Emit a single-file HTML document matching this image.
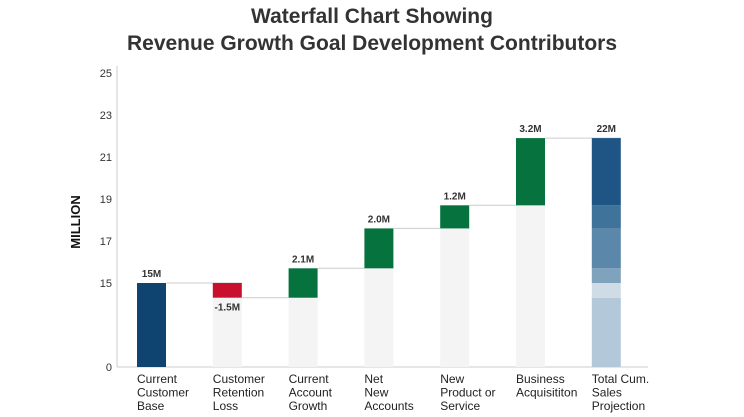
<!DOCTYPE html>
<html><head><meta charset="utf-8"><style>
body{margin:0;background:#fff;}
svg{display:block;font-family:"Liberation Sans",sans-serif;}
</style></head><body>
<svg id="c" width="744" height="417">
<text x="372" y="23" text-anchor="middle" font-size="21" font-weight="bold" fill="#333">Waterfall Chart Showing</text>
<text x="372" y="50" text-anchor="middle" font-size="21" font-weight="bold" fill="#333">Revenue Growth Goal Development Contributors</text>
<text transform="translate(80,222) rotate(-90)" text-anchor="middle" font-size="13" font-weight="bold" fill="#111">MILLION</text>
<line x1="117" y1="66" x2="117" y2="367" stroke="#ccc"/>
<line x1="117" y1="367" x2="648" y2="367" stroke="#ccc"/>
<g id="g"></g>
</svg>
<script>
const categories=[["Current","Customer","Base"],["Customer","Retention","Loss"],["Current","Account","Growth"],["Net","New","Accounts"],["New","Product or","Service"],["Business","Acquisititon"],["Total Cum.","Sales","Projection"]];
const deltas=[15,-0.7,1.4,1.9,1.1,3.2];
const valueLabels=["15M","-1.5M","2.1M","2.0M","1.2M","3.2M","22M"];
const ticks=[0,15,17,19,21,23,25];
const totalColors=["#b3c8d8","#cfdce6","#7fa2bd","#5b88aa","#3f7399","#1f5585"];
function y(v){return v>=13?283-(v-15)*21:367-v*(42/13);}
function x(i){return 137+i*75.8;}
const W=29,ns="http://www.w3.org/2000/svg",g=document.getElementById('g');
function el(t,a,txt){const e=document.createElementNS(ns,t);for(const k in a)e.setAttribute(k,a[k]);if(txt!=null)e.textContent=txt;g.appendChild(e);return e;}
ticks.forEach(t=>{const e=el('text',{x:112,y:y(t)+4,'text-anchor':'end','font-size':11,fill:'#333'},t);

});
let cum=0;const levels=[];
deltas.forEach((d,i)=>{
 const prev=cum;cum+=d;
 const top=Math.max(prev,cum),bot=Math.min(prev,cum);
 if(i>0){const f=el('rect',{x:x(i),y:y(bot),width:W,height:367-y(bot),fill:'#f4f4f4'});
 
 }
 const col=i==0?'#0f4470':(d<0?'#c8102e':'#06733f');
 const r=el('rect',{x:x(i),y:y(top),width:W,height:y(i==0?0:bot)-y(top),fill:col});
 
 
 const l=el('line',{x1:x(i)+W,y1:y(cum),x2:x(i+1)+W,y2:y(cum),stroke:'#ccc'});
 
 
 const ly=d<0?y(bot)+13:y(top)-6;
 const t=el('text',{x:x(i)+W/2,y:ly,'text-anchor':'middle','font-size':10,'font-weight':'bold',fill:'#333'},valueLabels[i]);
 
 
 levels.push(cum);
});
const lv=[0].concat(levels.slice(1)).sort((a,b)=>a-b);lv.push(cum);
const uniq=[0,levels[1],levels[0],levels[2],levels[3],levels[4],levels[5]].sort((a,b)=>a-b);
for(let k=0;k<uniq.length-1;k++){
 const r=el('rect',{x:x(6),y:y(uniq[k+1]),width:W,height:y(uniq[k])-y(uniq[k+1]),fill:totalColors[k]});
 
 }
const tl=el('text',{x:x(6)+W/2,y:y(cum)-6,'text-anchor':'middle','font-size':10,'font-weight':'bold',fill:'#333'},valueLabels[6]);


categories.forEach((c,i)=>c.forEach((s,j)=>{const t=el('text',{x:x(i),y:383+j*13.5,'font-size':12,fill:'#222'},s);

}));
</script>
</body></html>
